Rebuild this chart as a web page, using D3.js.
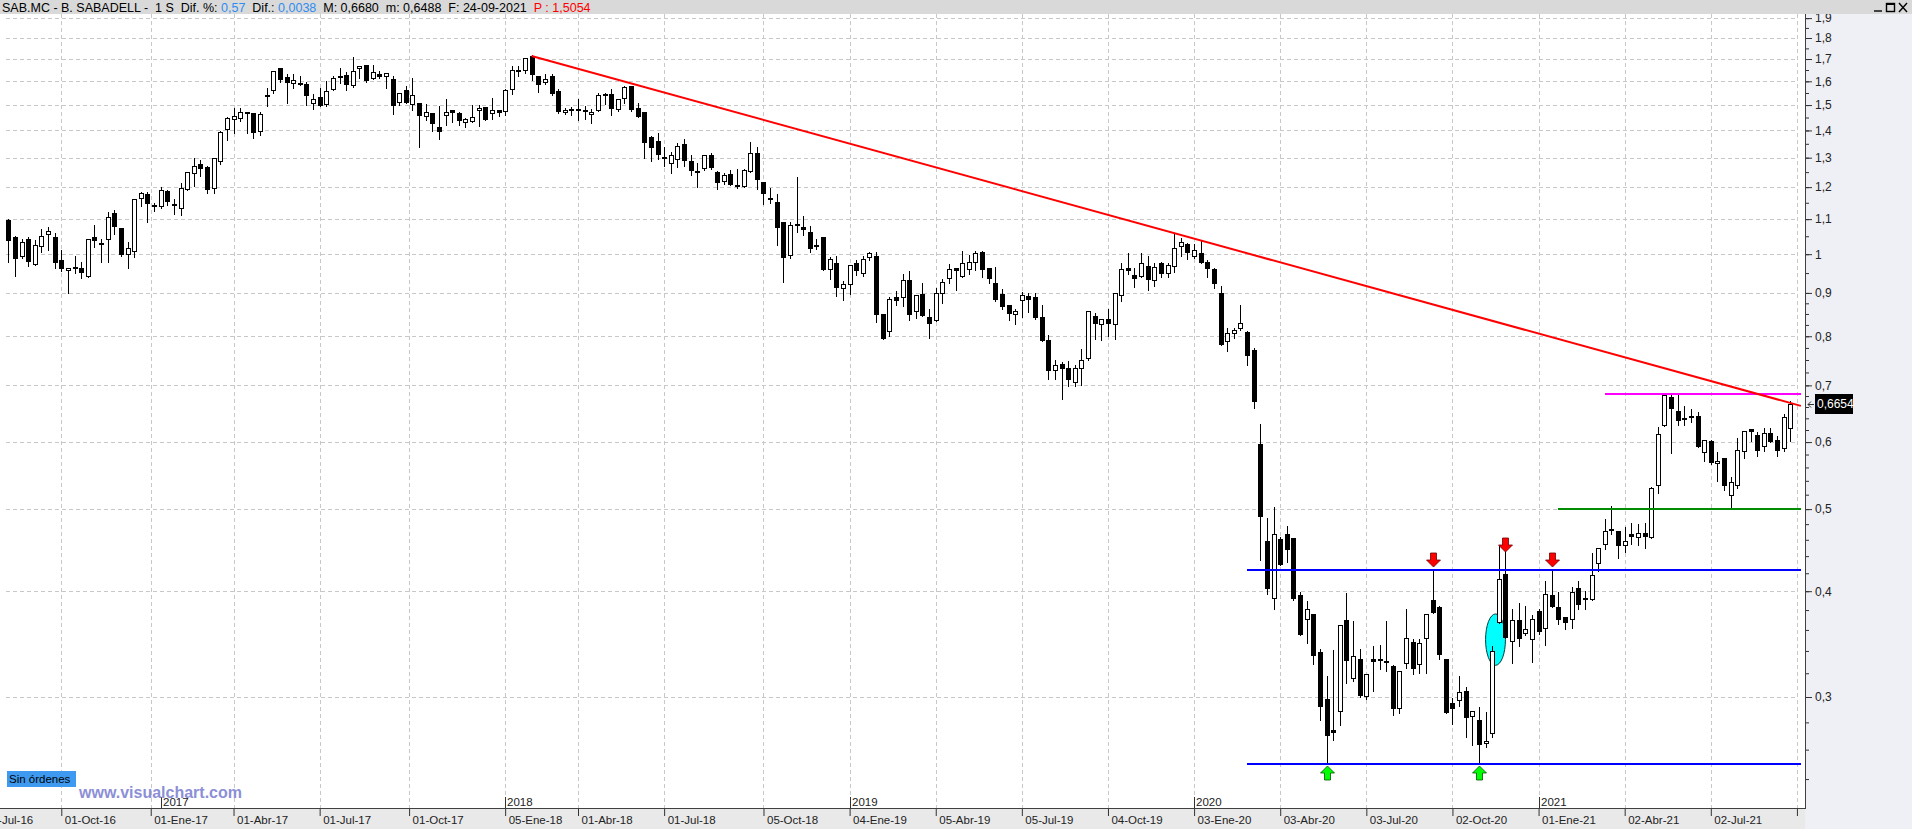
<!DOCTYPE html>
<html>
<head>
<meta charset="utf-8">
<title>SAB.MC - B. SABADELL - 1 S</title>
<script src="https://cdn.jsdelivr.net/npm/d3@7"></script>
<style>
  html, body { margin: 0; padding: 0; background: #fff; overflow: hidden; }
  svg { display: block; }
</style>
</head>
<body>
<svg id="chart"></svg>
<script>
// weekly bars, index 0 = first bar on screen, 269 = 24-09-2021
const opens = [
  1.098,1.049,0.992,1.041,0.972,1.020,1.054,1.049,0.983,0.956,
  0.967,0.964,0.941,1.047,1.032,1.039,1.117,1.075,0.997,1.006,
  1.163,1.178,1.143,1.136,1.187,1.146,1.131,1.192,1.245,1.277,
  1.267,1.194,1.285,1.400,1.442,1.446,1.473,1.467,1.395,1.538,
  1.557,1.661,1.617,1.587,1.593,1.587,1.504,1.535,1.500,1.564,
  1.613,1.628,1.578,1.654,1.671,1.609,1.630,1.617,1.609,1.509,
  1.561,1.500,1.509,1.453,1.466,1.415,1.458,1.478,1.467,1.430,
  1.434,1.474,1.494,1.464,1.478,1.472,1.561,1.652,1.646,1.712,
  1.622,1.594,1.623,1.557,1.467,1.482,1.485,1.478,1.460,1.476,
  1.543,1.545,1.479,1.526,1.579,1.490,1.470,1.374,1.360,1.304,
  1.279,1.293,1.348,1.290,1.247,1.259,1.311,1.252,1.216,1.243,
  1.208,1.202,1.251,1.316,1.218,1.165,1.153,1.090,0.996,1.083,
  1.077,1.063,1.026,1.047,0.958,0.977,0.910,0.920,0.977,0.948,
  0.990,0.996,0.851,0.809,0.891,0.888,0.933,0.854,0.897,0.844,
  0.833,0.898,0.935,0.962,0.939,0.958,0.976,1.007,0.963,0.925,
  0.897,0.871,0.847,0.881,0.892,0.891,0.844,0.791,0.727,0.741,
  0.734,0.705,0.732,0.753,0.845,0.824,0.839,0.824,0.893,0.963,
  0.946,0.941,0.969,0.930,0.976,0.948,0.967,1.021,1.029,0.992,
  1.002,0.979,0.960,0.899,0.787,0.804,0.815,0.810,0.771,0.597,
  0.459,0.392,0.461,0.467,0.462,0.396,0.370,0.376,0.339,0.298,
  0.274,0.288,0.370,0.315,0.333,0.300,0.333,0.331,0.331,0.326,
  0.290,0.328,0.348,0.327,0.351,0.391,0.383,0.333,0.295,0.297,
  0.305,0.284,0.282,0.264,0.271,0.367,0.419,0.348,0.370,0.356,
  0.350,0.379,0.361,0.396,0.383,0.373,0.370,0.403,0.393,0.391,
  0.431,0.454,0.473,0.471,0.452,0.467,0.462,0.468,0.462,0.532,
  0.626,0.679,0.652,0.641,0.643,0.644,0.583,0.601,0.566,0.574,
  0.518,0.532,0.584,0.622,0.612,0.592,0.615,0.604,0.588,0.622
];
const highs = [
  1.100,1.052,1.043,1.047,1.038,1.070,1.076,1.058,1.012,0.964,
  0.996,0.980,1.041,1.083,1.043,1.123,1.129,1.075,1.035,1.163,
  1.185,1.185,1.148,1.200,1.190,1.163,1.215,1.251,1.300,1.292,
  1.271,1.298,1.398,1.454,1.488,1.488,1.473,1.467,1.473,1.570,
  1.646,1.661,1.632,1.632,1.622,1.596,1.545,1.570,1.600,1.625,
  1.657,1.642,1.711,1.668,1.674,1.671,1.644,1.635,1.623,1.552,
  1.578,1.614,1.509,1.504,1.466,1.497,1.526,1.478,1.472,1.449,
  1.500,1.500,1.494,1.527,1.478,1.567,1.668,1.668,1.705,1.720,
  1.622,1.633,1.633,1.567,1.490,1.492,1.524,1.497,1.486,1.549,
  1.549,1.567,1.526,1.580,1.579,1.509,1.470,1.380,1.392,1.337,
  1.321,1.353,1.368,1.311,1.281,1.311,1.315,1.255,1.246,1.258,
  1.260,1.260,1.356,1.337,1.218,1.198,1.177,1.090,1.092,1.233,
  1.110,1.079,1.041,1.049,0.992,0.996,0.930,0.971,0.984,0.994,
  1.007,1.007,0.851,0.891,0.905,0.948,0.956,0.895,0.925,0.862,
  0.911,0.936,0.974,0.963,1.009,0.997,1.010,1.009,0.963,0.965,
  0.910,0.871,0.862,0.902,0.901,0.900,0.870,0.802,0.750,0.745,
  0.747,0.739,0.773,0.856,0.852,0.838,0.861,0.900,0.976,1.002,
  0.963,1.002,0.994,0.975,0.980,0.976,1.057,1.045,1.032,1.029,
  1.038,0.983,0.962,0.918,0.818,0.819,0.872,0.811,0.775,0.630,
  0.488,0.503,0.463,0.478,0.462,0.399,0.390,0.376,0.342,0.318,
  0.341,0.365,0.398,0.369,0.342,0.319,0.345,0.346,0.369,0.327,
  0.322,0.381,0.351,0.351,0.376,0.424,0.384,0.333,0.299,0.318,
  0.308,0.289,0.292,0.288,0.345,0.452,0.447,0.381,0.387,0.384,
  0.375,0.381,0.411,0.423,0.399,0.373,0.405,0.411,0.400,0.444,
  0.450,0.487,0.504,0.471,0.476,0.481,0.480,0.482,0.531,0.625,
  0.684,0.684,0.682,0.661,0.657,0.651,0.603,0.603,0.584,0.574,
  0.545,0.606,0.619,0.622,0.617,0.623,0.624,0.610,0.648,0.670
];
const lows = [
  0.979,0.943,0.990,0.968,0.970,1.007,1.012,0.963,0.955,0.900,
  0.951,0.938,0.941,1.020,0.980,0.979,1.056,0.994,0.963,0.992,
  1.140,1.090,1.124,1.133,1.143,1.115,1.112,1.190,1.205,1.237,
  1.180,1.180,1.278,1.365,1.390,1.437,1.390,1.372,1.383,1.495,
  1.548,1.599,1.509,1.573,1.582,1.500,1.482,1.495,1.495,1.564,
  1.593,1.564,1.574,1.616,1.599,1.609,1.616,1.573,1.462,1.499,
  1.507,1.480,1.337,1.440,1.396,1.368,1.420,1.433,1.420,1.413,
  1.434,1.418,1.440,1.446,1.456,1.460,1.546,1.622,1.636,1.607,
  1.555,1.587,1.542,1.468,1.462,1.459,1.441,1.446,1.430,1.476,
  1.506,1.460,1.476,1.510,1.474,1.454,1.299,1.288,1.294,1.270,
  1.247,1.266,1.271,1.239,1.200,1.257,1.261,1.193,1.209,1.206,
  1.198,1.202,1.251,1.193,1.145,1.150,1.025,0.927,0.990,1.062,
  1.053,1.005,1.014,0.959,0.934,0.892,0.884,0.897,0.944,0.943,
  0.985,0.831,0.793,0.800,0.872,0.869,0.837,0.841,0.845,0.797,
  0.833,0.876,0.925,0.906,0.939,0.947,0.957,0.941,0.925,0.880,
  0.861,0.837,0.828,0.843,0.854,0.839,0.789,0.712,0.713,0.674,
  0.699,0.699,0.700,0.751,0.795,0.791,0.800,0.795,0.880,0.948,
  0.915,0.941,0.908,0.917,0.941,0.941,0.954,0.995,0.988,0.990,
  0.976,0.939,0.911,0.781,0.769,0.797,0.814,0.740,0.658,0.435,
  0.397,0.381,0.430,0.433,0.391,0.355,0.347,0.328,0.282,0.250,
  0.267,0.278,0.312,0.313,0.300,0.298,0.305,0.324,0.322,0.286,
  0.287,0.325,0.319,0.320,0.320,0.377,0.333,0.287,0.279,0.293,
  0.269,0.263,0.250,0.262,0.269,0.367,0.352,0.329,0.345,0.355,
  0.330,0.356,0.346,0.383,0.366,0.361,0.362,0.381,0.381,0.391,
  0.423,0.449,0.467,0.438,0.445,0.455,0.454,0.450,0.462,0.523,
  0.626,0.582,0.628,0.628,0.634,0.592,0.570,0.566,0.540,0.527,
  0.500,0.529,0.574,0.602,0.577,0.585,0.600,0.578,0.586,0.602
];
const closes = [
  1.036,0.987,1.034,0.979,1.026,1.050,1.066,0.977,0.960,0.964,
  0.966,0.951,1.041,1.036,1.025,1.106,1.077,0.999,1.017,1.163,
  1.181,1.147,1.140,1.190,1.152,1.143,1.197,1.251,1.271,1.260,
  1.190,1.298,1.393,1.449,1.458,1.473,1.469,1.391,1.465,1.543,
  1.646,1.607,1.591,1.604,1.590,1.538,1.526,1.495,1.557,1.613,
  1.625,1.585,1.646,1.668,1.601,1.643,1.620,1.635,1.495,1.552,
  1.507,1.543,1.455,1.470,1.425,1.393,1.473,1.467,1.437,1.443,
  1.454,1.490,1.441,1.478,1.467,1.562,1.652,1.650,1.705,1.629,
  1.582,1.612,1.545,1.472,1.478,1.478,1.477,1.474,1.470,1.543,
  1.547,1.483,1.526,1.576,1.478,1.454,1.354,1.333,1.310,1.297,
  1.309,1.341,1.288,1.253,1.255,1.311,1.264,1.212,1.239,1.206,
  1.202,1.256,1.318,1.222,1.178,1.163,1.073,0.991,1.083,1.085,
  1.068,1.014,1.024,0.959,0.987,0.913,0.923,0.971,0.955,0.987,
  1.002,0.848,0.795,0.886,0.880,0.931,0.848,0.895,0.846,0.826,
  0.899,0.928,0.961,0.955,0.976,0.979,1.002,0.957,0.935,0.884,
  0.866,0.850,0.857,0.894,0.883,0.840,0.789,0.727,0.739,0.731,
  0.711,0.733,0.751,0.856,0.827,0.838,0.827,0.899,0.961,0.955,
  0.935,0.976,0.931,0.966,0.947,0.971,1.016,1.034,1.004,1.011,
  0.977,0.961,0.922,0.781,0.807,0.813,0.830,0.759,0.669,0.489,
  0.402,0.467,0.430,0.448,0.392,0.355,0.381,0.335,0.292,0.270,
  0.272,0.365,0.331,0.335,0.301,0.319,0.330,0.333,0.330,0.290,
  0.322,0.352,0.324,0.347,0.376,0.377,0.336,0.287,0.290,0.304,
  0.283,0.289,0.263,0.266,0.340,0.414,0.352,0.370,0.351,0.361,
  0.371,0.358,0.397,0.383,0.370,0.367,0.399,0.385,0.392,0.418,
  0.450,0.471,0.474,0.452,0.459,0.464,0.468,0.464,0.530,0.613,
  0.682,0.657,0.635,0.640,0.644,0.592,0.603,0.567,0.570,0.532,
  0.538,0.587,0.619,0.617,0.585,0.615,0.600,0.585,0.642,0.6654
];

// price axis
const priceTicks = [0.3, 0.4, 0.5, 0.6, 0.7, 0.8, 0.9, 1, 1.1, 1.2, 1.3, 1.4, 1.5, 1.6, 1.7, 1.8, 1.9];

// date axis (bar index of each tick)
const dateTickIdx = [-4, 8, 21.5, 34, 47, 60.5, 75, 86, 99, 114, 127, 140, 153, 166, 179, 192, 205, 218, 231, 244, 257, 270];
const dateTickLabels = ["01-Jul-16", "01-Oct-16", "01-Ene-17", "01-Abr-17", "01-Jul-17", "01-Oct-17",
  "05-Ene-18", "01-Abr-18", "01-Jul-18", "05-Oct-18", "04-Ene-19", "05-Abr-19", "05-Jul-19",
  "04-Oct-19", "03-Ene-20", "03-Abr-20", "03-Jul-20", "02-Oct-20", "01-Ene-21", "02-Abr-21",
  "02-Jul-21", ""];
const yearIdx = [23, 75, 127, 179, 231];
const yearLabels = ["2017", "2018", "2019", "2020", "2021"];

// drawings on the chart
const trendLine = [[79, 1.714], [270.6, 0.662]];
const levelPrices = [0.684, 0.5, 0.4237, 0.25];
const levelStart = [241, 234, 187, 187];
const downArrows = [[215, 0.4276], [226, 0.445], [233, 0.4276]];
const upArrows = [[199, 0.2487], [222, 0.2487]];
const markIdx = [223, 226];
const markPrice = [0.327, 0.376];
const lastPrice = 0.6654;

const headerParts = [
  ["SAB.MC - B. SABADELL -  1 S  Dif. %: ", "k"],
  ["0,57", "b"],
  ["  Dif.: ", "k"],
  ["0,0038", "b"],
  ["  M: 0,6680  m: 0,6488  F: 24-09-2021  ", "k"],
  ["P : 1,5054", "r"]
];

const FONT = "'Liberation Sans', Arial, sans-serif";
const width = 1912, height = 829;
const plotTop = 14, plotBottom = 808, plotRight = 1801, axisX = 1805;
const levelColors = ["#ff00ff", "#008c00", "#0000ff", "#0000ff"];
const headerColors = { k: "#000", b: "#2f8cf0", r: "#ff0000" };

const svg = d3.select("#chart").attr("width", width).attr("height", height);

svg.append("rect").attr("width", width).attr("height", height).attr("fill", "#fff");
svg.append("rect").attr("x", axisX).attr("y", plotTop)
  .attr("width", width - axisX).attr("height", height - plotTop).attr("fill", "#eff0f5");
svg.append("rect").attr("x", 0).attr("y", plotBottom)
  .attr("width", axisX).attr("height", height - plotBottom).attr("fill", "#e9e9e9");

const x = d3.scaleLinear().domain([0, 269]).range([8.3, 1790.3]);
const y = d3.scaleLog().domain([0.3, 1.8]).range([697, 38]);
const px = v => Math.round(v) + 0.5;

svg.append("defs").append("clipPath").attr("id", "plot-clip")
  .append("rect").attr("x", 0).attr("y", plotTop)
  .attr("width", plotRight).attr("height", plotBottom - plotTop);

// grid
const grid = svg.append("g")
  .attr("stroke", "#c8c8c8")
  .attr("stroke-dasharray", "4,3")
  .attr("shape-rendering", "crispEdges");

grid.selectAll("line.h").data(priceTicks).join("line")
  .attr("class", "h")
  .attr("x1", 6).attr("x2", 1797)
  .attr("y1", d => px(y(d))).attr("y2", d => px(y(d)));

grid.selectAll("line.v").data(dateTickIdx.filter(d => d >= 0)).join("line")
  .attr("class", "v")
  .attr("x1", d => px(x(d))).attr("x2", d => px(x(d)))
  .attr("y1", plotTop).attr("y2", plotBottom);

// year markers
const years = svg.append("g");
yearIdx.forEach((d, k) => {
  years.append("line")
    .attr("x1", px(x(d))).attr("x2", px(x(d)))
    .attr("y1", 797).attr("y2", plotBottom)
    .attr("stroke", "#333").attr("shape-rendering", "crispEdges");
  years.append("text")
    .attr("x", Math.round(x(d)) + 2).attr("y", 806)
    .attr("font-family", FONT).attr("font-size", 11.5).attr("fill", "#222")
    .text(yearLabels[k]);
});

svg.append("text")
  .attr("x", 79).attr("y", 798)
  .attr("font-family", FONT).attr("font-size", 16).attr("font-weight", "bold")
  .attr("fill", "#8c8fd6")
  .text("www.visualchart.com");

svg.append("rect")
  .attr("x", 7).attr("y", 771).attr("width", 69).attr("height", 16)
  .attr("fill", "#3d9af0");
svg.append("text")
  .attr("x", 9).attr("y", 783)
  .attr("font-family", FONT).attr("font-size", 11.5).attr("fill", "#000")
  .text("Sin órdenes");

// circled zone behind the bars
const chartArea = svg.append("g").attr("clip-path", "url(#plot-clip)");

chartArea.append("ellipse")
  .attr("cx", (x(markIdx[0]) + x(markIdx[1])) / 2)
  .attr("cy", (y(markPrice[0]) + y(markPrice[1])) / 2)
  .attr("rx", (x(markIdx[1]) - x(markIdx[0])) / 2)
  .attr("ry", (y(markPrice[0]) - y(markPrice[1])) / 2)
  .attr("fill", "#00ffff")
  .attr("stroke", "#004040")
  .attr("stroke-width", 1);

// candles
const bars = opens.map((o, i) => ({ i, o, h: highs[i], l: lows[i], c: closes[i] }));

const candle = chartArea.append("g")
  .attr("shape-rendering", "crispEdges")
  .selectAll("g")
  .data(bars)
  .join("g");

candle.append("line")
  .attr("x1", d => px(x(d.i))).attr("x2", d => px(x(d.i)))
  .attr("y1", d => Math.round(y(d.h))).attr("y2", d => Math.round(y(d.l)) + 1)
  .attr("stroke", "#000");

candle.append("rect")
  .each(function (d) {
    const top = Math.round(y(Math.max(d.o, d.c)));
    const bot = Math.round(y(Math.min(d.o, d.c)));
    const cx = Math.round(x(d.i));
    const r = d3.select(this);
    if (d.c < d.o) {
      r.attr("x", cx - 2).attr("width", 5)
        .attr("y", top).attr("height", Math.max(2, bot - top))
        .attr("fill", "#000");
    } else {
      r.attr("x", cx - 1.5).attr("width", 4)
        .attr("y", top + 0.5).attr("height", Math.max(1, bot - top - 1))
        .attr("fill", "#fff").attr("stroke", "#000");
    }
  });

// horizontal levels
levelPrices.forEach((p, k) => {
  chartArea.append("line")
    .attr("x1", x(levelStart[k])).attr("x2", plotRight)
    .attr("y1", Math.round(y(p))).attr("y2", Math.round(y(p)))
    .attr("stroke", levelColors[k]).attr("stroke-width", 2)
    .attr("shape-rendering", "crispEdges");
});

// trend line
chartArea.append("line")
  .attr("x1", x(trendLine[0][0])).attr("y1", y(trendLine[0][1]))
  .attr("x2", x(trendLine[1][0])).attr("y2", y(trendLine[1][1]))
  .attr("stroke", "#ff0000").attr("stroke-width", 2);

// arrows
const arrowDown = "M0,0 L-7,-7 L-3,-7 L-3,-14 L3,-14 L3,-7 L7,-7 Z";
const arrowUp = "M0,0 L-7,7 L-3,7 L-3,14 L3,14 L3,7 L7,7 Z";

chartArea.selectAll("path.dn").data(downArrows).join("path")
  .attr("class", "dn")
  .attr("transform", d => `translate(${px(x(d[0]))},${Math.round(y(d[1]))})`)
  .attr("d", arrowDown)
  .attr("fill", "#ff0000").attr("stroke", "#700000").attr("stroke-width", 0.8);

chartArea.selectAll("path.up").data(upArrows).join("path")
  .attr("class", "up")
  .attr("transform", d => `translate(${px(x(d[0]))},${Math.round(y(d[1]))})`)
  .attr("d", arrowUp)
  .attr("fill", "#00ff00").attr("stroke", "#005000").attr("stroke-width", 0.8);

// axes
const fmtPrice = d => String(d).replace(".", ",");

const minorTicks = [];
for (let v = 0.22; v < 0.699; v += 0.02) minorTicks.push(+v.toFixed(3));
for (let v = 0.7; v < 0.899; v += 0.025) minorTicks.push(+v.toFixed(3));
for (let v = 0.9; v < 1.95; v += 0.05) minorTicks.push(+v.toFixed(3));

const yMinor = svg.append("g")
  .attr("transform", `translate(${axisX},0)`)
  .call(d3.axisRight(y).tickValues(minorTicks.filter(v => y(v) < plotBottom && y(v) > plotTop))
    .tickSize(4).tickFormat(""));
yMinor.select(".domain").remove();
yMinor.selectAll("line").attr("stroke", "#333");

const yAxis = svg.append("g")
  .attr("transform", `translate(${axisX},0)`)
  .call(d3.axisRight(y).tickValues(priceTicks).tickSize(7).tickFormat(fmtPrice));
yAxis.attr("font-family", FONT).attr("font-size", 12);
yAxis.select(".domain").remove();
yAxis.selectAll("line").attr("stroke", "#333");
yAxis.selectAll("text").attr("x", 10).attr("fill", "#222");

const xAxis = svg.append("g")
  .attr("transform", `translate(0,${plotBottom})`)
  .call(d3.axisBottom(x).tickValues(dateTickIdx).tickSize(8)
    .tickFormat((d, k) => dateTickLabels[k]));
xAxis.attr("font-family", FONT).attr("font-size", 11.5);
xAxis.select(".domain").remove();
xAxis.selectAll("line").attr("stroke", "#333");
xAxis.selectAll("text").attr("text-anchor", "start").attr("x", 3).attr("y", 8).attr("fill", "#222");

svg.append("line")
  .attr("x1", 0).attr("x2", axisX).attr("y1", plotBottom + 0.5).attr("y2", plotBottom + 0.5)
  .attr("stroke", "#404040");
svg.append("line")
  .attr("x1", axisX + 0.5).attr("x2", axisX + 0.5).attr("y1", plotTop).attr("y2", plotBottom + 1)
  .attr("stroke", "#404040");

// last price tag
const lp = Math.round(y(lastPrice));
svg.append("path")
  .attr("d", `M${axisX + 9},${lp + 0.5} L${axisX + 3},${lp + 0.5} M${axisX + 6},${lp - 2.5} L${axisX + 3},${lp + 0.5} L${axisX + 6},${lp + 3.5}`)
  .attr("stroke", "#333").attr("fill", "none");
svg.append("rect")
  .attr("x", 1815).attr("y", lp - 10).attr("width", 38).attr("height", 20)
  .attr("fill", "#000");
svg.append("text")
  .attr("x", 1817).attr("y", lp + 4)
  .attr("font-family", FONT).attr("font-size", 12).attr("fill", "#fff")
  .text(fmtPrice(lastPrice));

// header bar
svg.append("rect").attr("x", 0).attr("y", 0).attr("width", width).attr("height", plotTop)
  .attr("fill", "#d9d9d9");
svg.append("text")
  .attr("x", 2).attr("y", 11.5)
  .attr("font-family", FONT).attr("font-size", 12.5)
  .style("white-space", "pre")
  .selectAll("tspan")
  .data(headerParts)
  .join("tspan")
  .attr("fill", d => headerColors[d[1]])
  .text(d => d[0]);

const buttons = svg.append("g").attr("stroke", "#000").attr("stroke-width", 1.4).attr("fill", "none");
buttons.append("line").attr("x1", 1874).attr("x2", 1882).attr("y1", 11).attr("y2", 11);
buttons.append("rect").attr("x", 1886.5).attr("y", 3.5).attr("width", 8).attr("height", 8);
buttons.append("line").attr("x1", 1887).attr("x2", 1895).attr("y1", 4).attr("y2", 4).attr("stroke-width", 2);
buttons.append("path").attr("d", "M1899,3 L1907,12 M1907,3 L1899,12");
</script>
</body>
</html>
